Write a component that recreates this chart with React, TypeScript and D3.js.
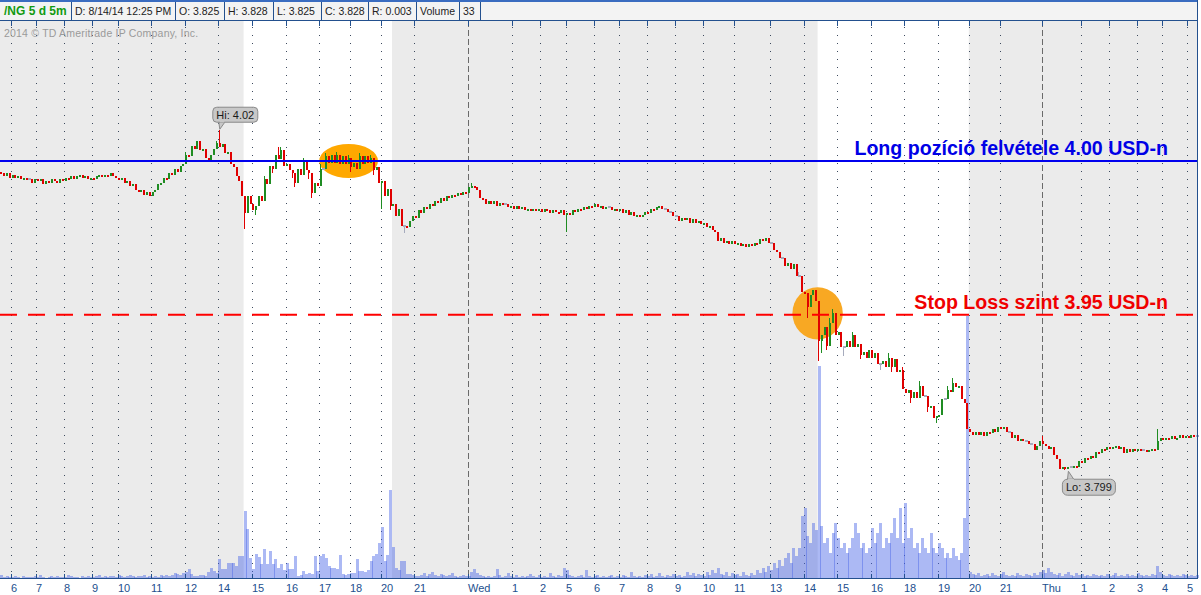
import React from "react";
import * as d3 from "d3";

// /NG natural gas futures, 5-minute bars. Closes in thousandths of a dollar.
const closeMills = [
  3992, 3990, 3992, 3989, 3991, 3989, 3990, 3988, 3989, 3988,
  3988, 3986, 3988, 3987, 3988, 3985, 3987, 3986, 3988, 3987,
  3986, 3988, 3987, 3989, 3988, 3990, 3988, 3990, 3991, 3989,
  3990, 3988, 3989, 3988, 3990, 3991, 3990, 3991, 3990, 3992,
  3990, 3989, 3988, 3989, 3986, 3987, 3984, 3985, 3981, 3980,
  3981, 3978, 3980, 3977, 3980, 3981, 3985, 3986, 3989, 3988,
  3992, 3991, 3995, 3993, 3997, 3998, 4004, 4003, 4010, 4008,
  4013, 4007, 4008, 4002, 4000, 4004, 4008, 4012, 4009, 4011,
  4005, 4006, 3998, 3996, 3990, 3987, 3977, 3966, 3977, 3972,
  3968, 3971, 3977, 3974, 3988, 3985, 3997, 3995, 4004, 4001,
  4007, 3997, 3998, 3994, 3992, 3986, 3995, 3991, 4000, 3994,
  3992, 3979, 3986, 3984, 3995, 3995, 4003, 3999, 4004, 3999,
  4004, 3998, 4003, 3998, 4002, 3996, 3999, 3995, 4003, 3998,
  4003, 3999, 4002, 3994, 3996, 3986, 3987, 3977, 3982, 3971,
  3972, 3964, 3969, 3958, 3958, 3957, 3961, 3964, 3963, 3968,
  3966, 3970, 3969, 3972, 3971, 3974, 3973, 3976, 3974, 3977,
  3976, 3978, 3977, 3979, 3978, 3980, 3979, 3983, 3984, 3983,
  3981, 3976, 3975, 3972, 3974, 3972, 3974, 3971, 3973, 3972,
  3972, 3970, 3971, 3969, 3971, 3969, 3970, 3968, 3969, 3968,
  3969, 3968, 3969, 3967, 3969, 3968, 3966, 3968, 3967, 3966,
  3968, 3965, 3966, 3965, 3968, 3967, 3969, 3968, 3970, 3969,
  3971, 3970, 3972, 3970, 3971, 3969, 3970, 3970, 3968, 3969,
  3968, 3969, 3966, 3968, 3965, 3967, 3964, 3965, 3964, 3965,
  3967, 3966, 3969, 3968, 3970, 3971, 3969, 3969, 3967, 3967,
  3964, 3964, 3961, 3963, 3962, 3963, 3960, 3962, 3960, 3961,
  3959, 3960, 3957, 3958, 3955, 3954, 3948, 3950, 3947, 3948,
  3946, 3948, 3946, 3947, 3945, 3946, 3944, 3946, 3945, 3947,
  3946, 3949, 3948, 3950, 3947, 3947, 3942, 3941, 3937, 3937,
  3932, 3934, 3930, 3933, 3925, 3925, 3915, 3914, 3905, 3913,
  3916, 3909, 3883, 3887, 3892, 3880, 3895, 3901, 3887, 3889,
  3879, 3879, 3883, 3879, 3887, 3879, 3881, 3874, 3876, 3872,
  3877, 3872, 3875, 3868, 3868, 3870, 3866, 3872, 3866, 3871,
  3863, 3864, 3852, 3849, 3851, 3846, 3850, 3846, 3854, 3847,
  3847, 3840, 3841, 3833, 3834, 3835, 3845, 3845, 3851, 3850,
  3856, 3853, 3854, 3845, 3843, 3826, 3824, 3822, 3824, 3822,
  3824, 3821, 3824, 3823, 3826, 3824, 3827, 3826, 3827, 3824,
  3824, 3820, 3822, 3818, 3819, 3818, 3818, 3816, 3816, 3812,
  3815, 3818, 3816, 3815, 3813, 3814, 3809, 3806, 3800, 3801,
  3800, 3801, 3801, 3802, 3801, 3805, 3804, 3807, 3806, 3808,
  3807, 3811, 3810, 3813, 3812, 3814, 3813, 3814, 3815, 3813,
  3814, 3810, 3813, 3811, 3813, 3812, 3813, 3812, 3812, 3811,
  3812, 3813, 3812, 3818, 3820, 3819, 3820, 3819, 3821, 3819,
  3820, 3822, 3820, 3821, 3820, 3822, 3821, 3821,
];
const firstOpen = 3.993;

// Wicks reaching beyond the candle bodies: [bar, price]
const wickHighs: [number, number][] = [
  [66, 4.006], [77, 4.013], [78, 4.02], [94, 3.99], [99, 4.009], [100, 4.009], [108, 4.002],
  [114, 3.998], [116, 4.005], [120, 4.006], [124, 4.004], [128, 4.005], [132, 4.004],
  [168, 3.986], [285, 3.928], [296, 3.898], [297, 3.904], [304, 3.889], [311, 3.877],
  [317, 3.875], [322, 3.866], [328, 3.857], [338, 3.854], [340, 3.859], [372, 3.821], [413, 3.826],
];
const wickLows: [number, number][] = [
  [87, 3.956], [91, 3.965], [97, 3.992], [104, 3.989], [105, 3.983], [110, 3.988], [111, 3.976],
  [125, 3.993], [133, 3.991], [136, 3.969], [139, 3.968], [144, 3.953], [202, 3.954],
  [288, 3.898], [292, 3.87], [293, 3.875], [295, 3.877], [301, 3.873], [307, 3.871],
  [314, 3.864], [318, 3.863], [325, 3.843], [331, 3.837], [334, 3.83], [380, 3.799],
];

// Contracts traded per bar
const volumes = [
  34, 12, 21, 9, 14, 25, 11, 4, 19, 13, 10, 12, 24, 8, 31, 13, 5, 9, 22, 11,
  20, 14, 10, 12, 35, 21, 9, 13, 3, 24, 12, 19, 10, 14, 22, 30, 9, 23, 12, 20,
  24, 10, 33, 21, 12, 19, 36,
  22, 11, 23, 20, 31, 12, 21, 10, 24, 13,
  33, 19, 30, 22, 35, 54, 45, 31, 56, 64,
  101, 43, 24, 21, 33, 31, 20, 66, 108, 79,
  56, 212, 97, 103, 168, 161, 170, 133, 244, 238,
  737, 541, 222, 98, 266, 229, 156, 318, 152, 301,
  149, 211, 113, 155, 87, 166, 101, 96, 243, 23,
  34, 78, 45, 56, 42, 240, 74, 246, 262, 221,
  130, 112, 108, 99, 255, 44, 33, 45, 55, 57,
  207, 77, 79, 65, 88, 187, 243, 266, 387, 562,
  188, 251, 968, 342, 111, 89, 186, 190, 45, 43,
  32, 24, 21,
  33, 55, 22, 46, 64, 31, 24, 43, 35, 21, 30, 57, 23, 12, 20, 34, 24,
  22, 66, 99, 54, 33, 24, 11, 21, 13, 20, 101, 34, 11,
  24, 55, 21, 12, 31, 9, 23, 11, 20, 44, 22, 13, 33, 10, 21, 12, 56, 23, 12, 31,
  22, 112, 86, 33, 21, 12, 23, 34, 11, 89, 24, 10, 22, 33, 12, 20, 11, 23, 31, 12,
  21, 12, 33, 23, 10, 66, 20, 11, 24, 12, 34, 22, 45, 11, 23, 54, 21, 13, 31, 22,
  44, 23, 31, 12, 21, 65, 34, 56, 22, 45, 33, 21, 66, 34, 88, 55, 110, 43, 31, 67,
  22, 54, 33, 45, 21, 66, 34, 23, 55, 32,
  88, 55, 112, 66, 131, 89, 165, 110, 199, 132, 221, 276, 167, 331, 243,
  330, 682, 770, 462, 385, 605, 528, 2332, 572, 385,
  440, 275, 495, 605, 440, 330, 385, 275, 330, 440,
  605, 495, 330, 385, 275, 330, 550, 385, 495, 605,
  330, 440, 385, 495, 660, 440, 770, 385, 825, 440,
  550, 330, 385, 275, 440, 330, 275, 495, 330, 275,
  385, 330, 220, 275, 220, 330, 242, 198, 275, 660,
  2882,
  66, 44, 33, 55, 22, 34, 45, 21, 56, 33, 23, 44, 65, 32, 22, 35, 21, 54, 33, 24,
  45, 31, 22, 57, 34, 66,
  88, 56, 110, 65, 44, 33, 55, 22, 45, 66, 34, 21, 56, 33, 45, 22, 34, 23, 44, 31,
  22, 33, 21, 45, 23, 34, 54, 22,
  34, 22, 45, 21, 33, 23, 55, 32, 21, 34, 22, 44, 33, 132, 66, 34, 23, 45, 33, 22,
  31, 23, 44, 32, 21, 34, 22, 33,
];

// Hour labels and the bar each one starts at
const tickLabels = [
  "6", "7", "8", "9", "10", "11", "12", "14", "15", "16", "17", "18", "20", "21",
  "Wed", "1", "2", "5", "6", "7", "8", "9", "10", "11", "13", "14", "15", "16", "18", "19", "20", "21",
  "Thu", "1", "2", "3", "4", "5",
];
const tickBars = [
  4, 13, 23, 33, 42, 54, 66, 78, 90, 102, 114, 125, 136, 148,
  167, 183, 193, 202, 212, 221, 231, 241, 251, 262, 275, 287, 299, 311, 323, 335, 346, 357,
  372, 386, 396, 406, 415, 424,
];

// Regular trading sessions [first bar, end bar)
const sessions: [number, number][] = [[87, 140], [292, 346]];

// Trade annotations
const LONG_ENTRY = 4.0;
const STOP_LEVEL = 3.9;
const longText = `Long pozíció felvétele ${LONG_ENTRY.toFixed(2)} USD-n`;
const stopText = "Stop Loss szint 3.95 USD-n";
const entryZone = { from: 114, to: 134, lo: 3.989, hi: 4.011 };
const stopZone = { from: 283, to: 300, lo: 3.884, hi: 3.918 };

const headerTexts = ["/NG 5 d 5m", "D: 8/14/14 12:25 PM", "O: 3.825", "H: 3.828", "L: 3.825", "C: 3.828", "R: 0.003", "Volume", "33"];
const copyright = "2014 © TD Ameritrade IP Company, Inc.";

// ---- layout ----
const W = 1201;
const H = 595;
const STEP = 2.8;
const TOP = 21;
const BOTTOM = 578;
const RIGHT = 1198;
const headerWidths = [71, 104, 49, 49, 48, 47, 48, 43, 21];

const AXIS_BLUE = "#23508e";
const UP = "#1f8c22";
const DOWN = "#e00000";
const FLAT = "#a6abbd";
const SANS = "'Liberation Sans', Arial, sans-serif";

export default function App() {
  const n = closeMills.length;
  const hiMap = new Map(wickHighs);
  const loMap = new Map(wickLows);
  const bars = closeMills.map((m, i) => {
    const c = m / 1000;
    const o = i === 0 ? firstOpen : closeMills[i - 1] / 1000;
    const h = Math.max(o, c, hiMap.get(i) ?? -Infinity);
    const l = Math.min(o, c, loMap.get(i) ?? Infinity);
    return { i, o, c, h, l, v: volumes[i] ?? 0 };
  });

  const x = d3.scaleLinear().domain([0, n]).range([0, n * STEP]);
  const y = d3.scaleLinear().domain([3.7283, 4.091]).range([579, 21]);
  const vy = d3.scaleLinear().domain([0, 6138]).range([BOTTOM, TOP - 1]);
  const cx = (i: number) => x(i + 0.5);

  const hiIdx = d3.maxIndex(bars, (b) => b.h);
  const loIdx = d3.minIndex(bars, (b) => b.l);
  const hiBar = bars[hiIdx];
  const loBar = bars[loIdx];

  const headerEdges = [0, ...Array.from(d3.cumsum(headerWidths))];
  const ticks = tickBars.map((b, k) => ({ label: tickLabels[k], px: Math.round(x(b)) + 0.5, dayBreak: !/^\d+$/.test(tickLabels[k]) }));

  const zone = (z: { from: number; to: number; lo: number; hi: number }) => ({
    cx: (x(z.from) + x(z.to + 1)) / 2,
    rx: (x(z.to + 1) - x(z.from)) / 2,
    cy: (y(z.lo) + y(z.hi)) / 2,
    ry: (y(z.lo) - y(z.hi)) / 2,
  });
  const ez = zone(entryZone);
  const sz = zone(stopZone);

  const hx = cx(hiIdx);
  const hy = y(hiBar.h);
  const lx = cx(loIdx);
  const ly = y(loBar.l);

  return (
    <svg width={W} height={H} style={{ position: "absolute", left: 0, top: 0, background: "#fff" }} fontFamily={SANS}>
      {/* off-hours background with white regular sessions */}
      <rect x={0} y={TOP} width={RIGHT} height={BOTTOM - TOP} fill="#ebebeb" />
      {sessions.map(([a, b], k) => (
        <rect key={k} x={x(a)} y={TOP} width={x(b) - x(a)} height={BOTTOM - TOP} fill="#ffffff" />
      ))}

      {/* hour grid */}
      {ticks.map((t, k) =>
        t.dayBreak ? (
          <line key={k} x1={t.px} x2={t.px} y1={TOP} y2={BOTTOM} stroke="#6a6a6a" strokeDasharray="6,3" />
        ) : (
          <line key={k} x1={t.px} x2={t.px} y1={TOP + 6} y2={BOTTOM} stroke="#3d4a5e" strokeDasharray="1,7" />
        )
      )}

      <text x={4} y={37} fontSize={10.5} fill="#9a9a9a" letterSpacing={0.2}>{copyright}</text>

      {/* volume */}
      <g shapeRendering="crispEdges">
        {bars.map((b) => (
          <rect key={b.i} x={x(b.i)} y={vy(b.v)} width={STEP + 0.1} height={BOTTOM - vy(b.v)} fill="rgba(70,100,230,0.45)" />
        ))}
      </g>

      {/* highlighted zones */}
      <ellipse cx={ez.cx} cy={ez.cy} rx={ez.rx} ry={ez.ry} fill="#ffa800" />
      <ellipse cx={sz.cx} cy={sz.cy} rx={sz.rx} ry={sz.ry} fill="#f8a823" />

      {/* candles */}
      <g shapeRendering="crispEdges">
        {bars.map((b) => {
          const r = Math.round(cx(b.i));
          if (b.c === b.o) {
            return (
              <g key={b.i}>
                {b.h > b.c || b.l < b.c ? <rect x={r - 1} y={y(b.h)} width={1} height={y(b.l) - y(b.h)} fill={FLAT} /> : null}
                <rect x={x(b.i)} y={y(b.c) - 1} width={STEP + 0.2} height={2} fill={FLAT} />
              </g>
            );
          }
          const col = b.c > b.o ? UP : DOWN;
          const top = y(Math.max(b.o, b.c));
          const bot = y(Math.min(b.o, b.c));
          return (
            <g key={b.i}>
              <rect x={r - 1} y={y(b.h)} width={1} height={Math.max(1, y(b.l) - y(b.h))} fill={col} />
              <rect x={r - 1} y={top} width={2} height={Math.max(2, bot - top)} fill={col} />
            </g>
          );
        })}
      </g>

      {/* trade levels */}
      <line x1={0} x2={RIGHT} y1={y(LONG_ENTRY)} y2={y(LONG_ENTRY)} stroke="#0000ee" strokeWidth={2} />
      <line x1={0} x2={RIGHT} y1={y(STOP_LEVEL)} y2={y(STOP_LEVEL)} stroke="#ff0000" strokeWidth={2} strokeDasharray="17,11" />
      <text x={1168} y={y(LONG_ENTRY) - 6} textAnchor="end" fontSize={19.6} fontWeight="bold" fill="#0000e6">{longText}</text>
      <text x={1168} y={y(STOP_LEVEL) - 6} textAnchor="end" fontSize={19.6} fontWeight="bold" fill="#f00000">{stopText}</text>

      {/* high / low bubbles */}
      <g>
        <path d={`M${hx - 1},${hy - 8} L${hx + 5},${hy - 8} L${hx},${hy - 1} Z`} fill="#c8c8c8" stroke="#8a8a8a" />
        <rect x={hx - 7} y={hy - 23} width={45} height={15} rx={4} fill="#c8c8c8" stroke="#8a8a8a" />
        <path d={`M${hx},${hy - 8.5} L${hx + 4.5},${hy - 8.5}`} stroke="#c8c8c8" strokeWidth={1.5} />
        <text x={hx + 15.5} y={hy - 11.5} textAnchor="middle" fontSize={11} fill="#1a1a1a">{`Hi: ${d3.format(".2f")(hiBar.h)}`}</text>
      </g>
      <g>
        <path d={`M${lx + 2},${ly + 10} L${lx + 9},${ly + 10} L${lx + 3},${ly + 1} Z`} fill="#c8c8c8" stroke="#8a8a8a" />
        <rect x={lx - 3} y={ly + 9} width={53} height={16} rx={5} fill="#c8c8c8" stroke="#8a8a8a" />
        <path d={`M${lx + 2.5},${ly + 9.5} L${lx + 8.5},${ly + 9.5}`} stroke="#c8c8c8" strokeWidth={1.5} />
        <text x={lx + 23.5} y={ly + 21} textAnchor="middle" fontSize={11} fill="#1a1a1a">{`Lo: ${d3.format(".3f")(loBar.l)}`}</text>
      </g>

      {/* header strip */}
      <rect x={0} y={0} width={RIGHT} height={20} fill="#f3f3f3" />
      <rect x={0} y={0} width={RIGHT} height={2} fill="#3a6cc0" />
      <line x1={0} x2={RIGHT} y1={20.5} y2={20.5} stroke={AXIS_BLUE} />
      {headerTexts.map((t, k) => (
        <g key={k}>
          <line x1={headerEdges[k + 1] + 0.5} x2={headerEdges[k + 1] + 0.5} y1={2} y2={20} stroke={AXIS_BLUE} />
          <text
            x={headerEdges[k] + 4}
            y={15}
            fontSize={k === 0 ? 12 : 10.5}
            fontWeight={k === 0 ? "bold" : "normal"}
            fill={k === 0 ? "#119a11" : "#222"}
          >
            {t}
          </text>
        </g>
      ))}
      <line x1={RIGHT - 0.5} x2={RIGHT - 0.5} y1={0} y2={BOTTOM} stroke={AXIS_BLUE} />

      {/* top tick marks */}
      {ticks.map((t, k) => (
        <line key={k} x1={t.px} x2={t.px} y1={TOP} y2={TOP + 5} stroke={AXIS_BLUE} />
      ))}

      {/* time axis */}
      <line x1={0} x2={RIGHT} y1={BOTTOM + 0.5} y2={BOTTOM + 0.5} stroke={AXIS_BLUE} strokeWidth={1.2} />
      {ticks.map((t, k) => (
        <g key={k}>
          <line x1={t.px} x2={t.px} y1={BOTTOM - 4} y2={BOTTOM} stroke={AXIS_BLUE} />
          <text x={t.px - 0.5} y={592} fontSize={11} fill={AXIS_BLUE}>{t.label}</text>
        </g>
      ))}
    </svg>
  );
}
